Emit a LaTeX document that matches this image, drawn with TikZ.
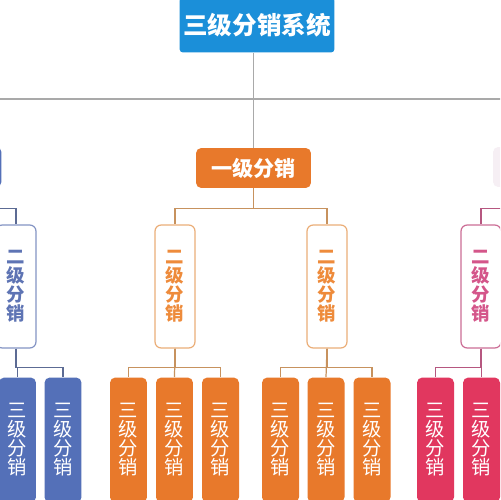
\documentclass[tikz,border=0pt]{standalone}
\usepackage{fontspec}
\newfontfamily\cjk{Noto Sans CJK SC}
\definecolor{topblue}{HTML}{1B8FD9}
\definecolor{linegray}{HTML}{A9A9A9}
\definecolor{orgfill}{HTML}{E8792B}
\definecolor{orgedge}{HTML}{EBAE78}
\definecolor{orgtext}{HTML}{EE8B3B}
\definecolor{orgline}{HTML}{C7925E}
\definecolor{bluefill}{HTML}{5470B8}
\definecolor{blueedge}{HTML}{8494C4}
\definecolor{bluetext}{HTML}{5E74B4}
\definecolor{blueline}{HTML}{5C6B94}
\definecolor{pinkfill}{HTML}{E1375F}
\definecolor{pinkedge}{HTML}{CC6E96}
\definecolor{pinktext}{HTML}{D4568A}
\definecolor{pinkline}{HTML}{B65780}
\definecolor{palepink}{HTML}{F6EFF4}
\begin{document}
\begin{tikzpicture}[x=0.02cm,y=-0.02cm,
  topbox/.style={fill=topblue,text=white,rounded corners=2pt,minimum width=3.1cm,minimum height=1.1cm,inner sep=0pt,font=\cjk\bfseries\fontsize{14}{14}\selectfont},
  onebox/.style={fill=#1,text=white,rounded corners=3pt,minimum width=2.3cm,minimum height=0.8cm,inner sep=0pt,font=\cjk\bfseries\fontsize{12}{12}\selectfont},
  twobox/.style 2 args={draw=#1,text=#2,fill=white,line width=0.7pt,rounded corners=3.5pt,minimum width=0.8cm,minimum height=2.46cm,inner sep=0pt,align=center,font=\cjk\bfseries\fontsize{10.5}{10.8}\selectfont},
  threebox/.style={fill=#1,text=white,rounded corners=3pt,minimum width=0.74cm,minimum height=2.5cm,inner sep=0pt,align=center,font=\cjk\fontsize{11}{10.8}\selectfont},
  gline/.style={draw=linegray,line width=0.85pt},
  cline/.style={draw=#1,line width=0.7pt}]
\useasboundingbox (0,0) rectangle (500,500);
\fill[white] (0,0) rectangle (500,500);
\clip (0,0) rectangle (500,500);
\node[topbox] (top) at (257,25) {三级分销系统};
\node[onebox=orgfill] (one) at (253.5,168) {一级分销};
\node[onebox=bluefill] (oneL) at (-56,167) {};
\node[onebox=palepink] (oneR) at (550.5,167) {};
\node[twobox={blueedge}{bluetext}] (twoL) at (16,286.5) {二\\级\\分\\销};
\node[twobox={orgedge}{orgtext}] (twoA) at (175,286.5) {二\\级\\分\\销};
\node[twobox={orgedge}{orgtext}] (twoB) at (327,286.5) {二\\级\\分\\销};
\node[twobox={pinkedge}{pinktext}] (twoR) at (481,286.5) {二\\级\\分\\销};
\node[threebox=bluefill] (bA1) at (17.5,440) {三\\级\\分\\销};
\node[threebox=bluefill] (bA2) at (63,440) {三\\级\\分\\销};
\node[threebox=orgfill] (oA1) at (128.5,440) {三\\级\\分\\销};
\node[threebox=orgfill] (oA2) at (174.5,440) {三\\级\\分\\销};
\node[threebox=orgfill] (oA3) at (220.5,440) {三\\级\\分\\销};
\node[threebox=orgfill] (oB1) at (280.5,440) {三\\级\\分\\销};
\node[threebox=orgfill] (oB2) at (326,440) {三\\级\\分\\销};
\node[threebox=orgfill] (oB3) at (372,440) {三\\级\\分\\销};
\node[threebox=pinkfill] (pA1) at (435.5,440) {三\\级\\分\\销};
\node[threebox=pinkfill] (pA2) at (481.5,440) {三\\级\\分\\销};
\draw[gline] (top.south -| one.north) -- (one.north);
\draw[gline] (oneL.north) -- (oneL.north |- 0,99) -| (oneR.north);
\draw[cline=orgline] (one.south) -- +(0,20) -| (twoA.north);
\draw[cline=orgline] (one.south) -- +(0,20) -| (twoB.north);
\draw[cline=blueline] (oneL.south) -- +(0,21) -| (twoL.north);
\draw[cline=pinkline] (oneR.south) -- +(0,21) -| (twoR.north);
\draw[cline=blueline] (twoL.south) -- +(0,19) -| (bA1.north);
\draw[cline=blueline] (twoL.south) -- +(0,19) -| (bA2.north);
\draw[cline=orgline] (twoA.south) -- +(0,19) -| (oA1.north);
\draw[cline=orgline] (twoA.south) -- (oA2.north);
\draw[cline=orgline] (twoA.south) -- +(0,19) -| (oA3.north);
\draw[cline=orgline] (twoB.south) -- +(0,19) -| (oB1.north);
\draw[cline=orgline] (twoB.south) -- (oB2.north);
\draw[cline=orgline] (twoB.south) -- +(0,19) -| (oB3.north);
\draw[cline=pinkline] (twoR.south) -- +(0,19) -| (pA1.north);
\draw[cline=pinkline] (twoR.south) -- +(0,19) -| (pA2.north);
\end{tikzpicture}
\end{document}
